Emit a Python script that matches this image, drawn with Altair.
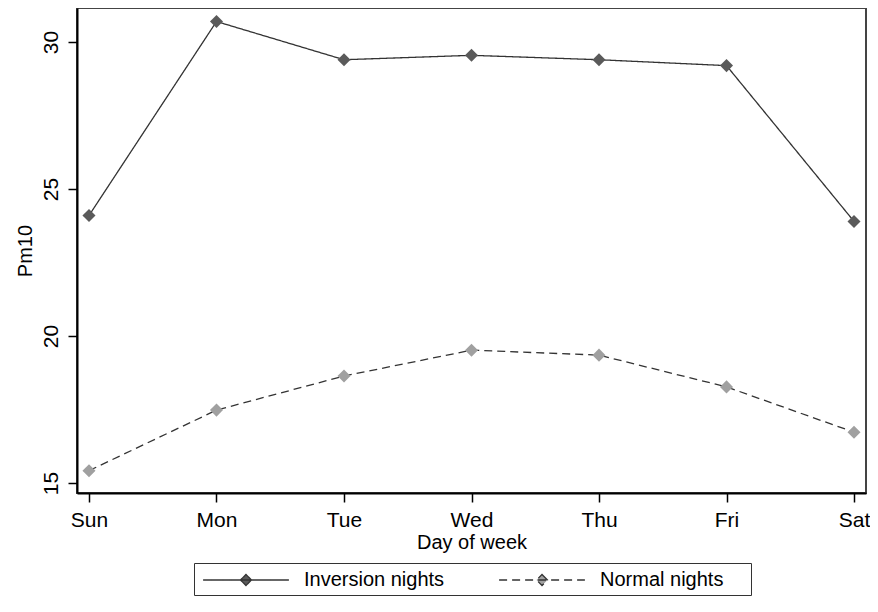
import altair as alt
import pandas as pd

days = ["Sun", "Mon", "Tue", "Wed", "Thu", "Fri", "Sat"]
inversion = [24.1, 30.7, 29.4, 29.55, 29.4, 29.2, 23.9]
normal = [15.42, 17.48, 18.64, 19.52, 19.35, 18.27, 16.73]
series_names = ["Inversion nights", "Normal nights"]
y_ticks = [15, 20, 25, 30]

df = pd.DataFrame({
    "day": days * 2,
    "pm10": inversion + normal,
    "series": [series_names[0]] * len(days) + [series_names[1]] * len(days),
})

FONT = "Liberation Sans"
PATH = "M-3.9,0L3.9,0M0,-0.5L0.5,0L0,0.5L-0.5,0Z"

x = alt.X("day:N", sort=days,
          scale=alt.Scale(type="point", padding=0.094),
          axis=alt.Axis(title="Day of week", labelAngle=0, labelPadding=7,
                        titlePadding=2))
y = alt.Y("pm10:Q",
          scale=alt.Scale(domain=[14.66, 31.16], nice=False, zero=False),
          axis=alt.Axis(values=y_ticks, title="Pm10", labelAngle=270,
                        labelAlign="center", labelBaseline="alphabetic",
                        labelPadding=11, titlePadding=5))

dash_scale = alt.Scale(domain=series_names, range=[[1, 0], [8, 5]])

legend_def = alt.Legend(
    title=" ", titleOrient="right", titlePadding=23, titleFontSize=20,
    orient="none", legendX=117, legendY=555,
    direction="horizontal", symbolType=PATH, symbolSize=484,
    symbolStrokeWidth=1.3, symbolFillColor="#5a5a5a",
    symbolOffset=35, labelOffset=46, columnPadding=50, padding=5,
    strokeColor="#333333", fillColor="white",
    labelFontSize=20, labelFont=FONT, labelColor="black",
)

line = alt.Chart(df).mark_line(color="#333333", strokeWidth=1.3).encode(
    x=x, y=y,
    strokeDash=alt.StrokeDash("series:N", scale=dash_scale, legend=legend_def),
)

points = alt.Chart(df).mark_point(
    shape="diamond", filled=True, opacity=1, strokeWidth=0, size=170
).encode(
    x=x, y=y,
    color=alt.Color("series:N",
                    scale=alt.Scale(domain=series_names, range=["#5a5a5a", "#a0a0a0"]),
                    legend=legend_def),
    stroke=alt.Stroke("series:N",
                      scale=alt.Scale(domain=series_names, range=["#333333", "#333333"]),
                      legend=legend_def),
    strokeDash=alt.StrokeDash("series:N", scale=dash_scale, legend=legend_def),
)

chart = alt.layer(line, points).properties(
    width=789, height=485,
    autosize=alt.AutoSizeParams(type="none"),
    padding={"left": 69, "top": 0, "right": 4, "bottom": 105},
    background="white",
).configure_view(
    stroke="#444444", strokeWidth=2,
).configure_axis(
    domainColor="black", domainWidth=2,
    tickColor="black", tickWidth=1.5, tickSize=9,
    labelColor="black", labelFont=FONT, labelFontSize=21,
    titleColor="black", titleFont=FONT, titleFontSize=20, titleFontWeight="normal",
    grid=False,
)

chart.save("out.html", embed_options={"renderer": "svg", "actions": False})
